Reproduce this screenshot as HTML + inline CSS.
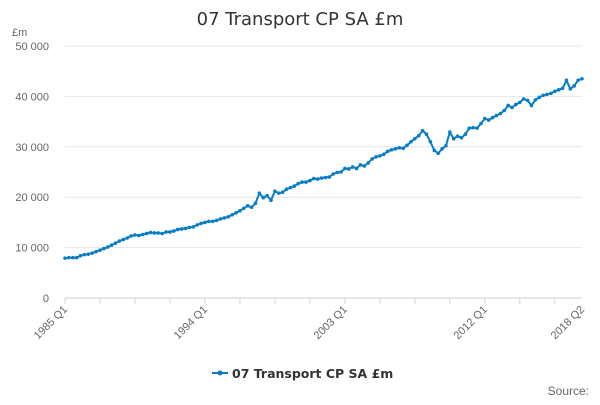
<!DOCTYPE html>
<html><head><meta charset="utf-8"><style>
body{margin:0;background:#fff;font-family:"Liberation Sans",sans-serif}
svg text{font-family:"Liberation Sans",sans-serif}
</style></head><body>
<svg width="600" height="400">
<text x="300" y="25" text-anchor="middle" font-size="18" fill="#333" style="font-family:'DejaVu Sans',sans-serif">07 Transport CP SA £m</text>
<text x="12" y="36" font-size="11" fill="#666">£m</text>
<g id="grid"></g><g id="xaxis"></g>
<path id="line" fill="none" stroke="#0a7ec4" stroke-width="2"/>
<g id="pts"></g>
<g>
<line x1="212" y1="373" x2="228" y2="373" stroke="#0a7ec4" stroke-width="2"/>
<circle cx="220" cy="373" r="2.5" fill="#0a7ec4"/>
<text x="232" y="378" font-size="12.5" font-weight="bold" fill="#333" style="font-family:'DejaVu Sans',sans-serif">07 Transport CP SA £m</text>
</g>
<text x="589" y="395" text-anchor="end" font-size="12" fill="#666">Source:</text>
</svg>
<script>
const yTicks=[0,10000,20000,30000,40000,50000];
const yTickLabels=["0","10 000","20 000","30 000","40 000","50 000"];
const xLabels=["1985 Q1","1994 Q1","2003 Q1","2012 Q1","2018 Q2"];
const xLabelIdx=[0,36,72,108,133];
const values=[7.9,8.0,8.0,8.0,8.4,8.6,8.7,8.9,9.2,9.5,9.8,10.1,10.5,10.9,11.3,11.6,11.9,12.3,12.5,12.4,12.6,12.8,13.0,12.9,12.9,12.8,13.1,13.1,13.3,13.6,13.7,13.8,14.0,14.1,14.5,14.8,15.0,15.2,15.2,15.4,15.7,15.9,16.1,16.5,16.9,17.3,17.8,18.3,18.0,18.8,20.8,19.9,20.3,19.4,21.2,20.8,21.0,21.6,21.9,22.2,22.7,23.0,23.0,23.3,23.7,23.6,23.8,23.9,24.0,24.6,24.9,25.0,25.7,25.6,26.0,25.7,26.4,26.2,26.8,27.6,28.0,28.2,28.5,29.1,29.4,29.6,29.8,29.7,30.3,31.0,31.6,32.2,33.2,32.5,31.0,29.3,28.7,29.6,30.2,32.9,31.6,32.1,31.8,32.5,33.7,33.8,33.7,34.6,35.6,35.3,35.8,36.2,36.6,37.2,38.2,37.8,38.4,38.8,39.5,39.2,38.2,39.3,39.8,40.2,40.4,40.6,41.0,41.3,41.6,43.2,41.5,42.1,43.2,43.5].map(v=>v*1000);
const NS="http://www.w3.org/2000/svg";
const x0=65,x1=582,y0=298,y1=46;
const X=i=>x0+(x1-x0)*i/(values.length-1);
const Y=v=>y0-(y0-y1)*v/50000;
const grid=document.getElementById('grid');
yTicks.forEach((t,k)=>{
 const l=document.createElementNS(NS,'line');
 
 
 l.setAttribute('x1',x0);l.setAttribute('x2',x1);l.setAttribute('y1',Y(t));l.setAttribute('y2',Y(t));
 l.setAttribute('stroke',t===0?'#ccc':'#e6e6e6');grid.appendChild(l);
 const tx=document.createElementNS(NS,'text');
 
 
 tx.setAttribute('x',49);tx.setAttribute('y',Y(t)+4);tx.setAttribute('text-anchor','end');
 tx.setAttribute('font-size','11');tx.setAttribute('fill','#666');tx.textContent=yTickLabels[k];grid.appendChild(tx);
});
const xa=document.getElementById('xaxis');
for(let i=0;i<values.length;i+=9){
 const l=document.createElementNS(NS,'line');
 
 
 l.setAttribute('x1',X(i));l.setAttribute('x2',X(i));l.setAttribute('y1',y0);l.setAttribute('y2',y0+6);
 l.setAttribute('stroke','#ccd6eb');xa.appendChild(l);
}
xLabels.forEach((s,k)=>{
 const x=X(xLabelIdx[k]);
 const t=document.createElementNS(NS,'text');
 
 
 t.setAttribute('x',x+3);t.setAttribute('y',y0+12);t.setAttribute('text-anchor','end');
 t.setAttribute('font-size','11');t.setAttribute('fill','#666');
 t.setAttribute('transform',`rotate(-45 ${x+3} ${y0+12})`);t.textContent=s;xa.appendChild(t);
});
let d='';const pts=document.getElementById('pts');
values.forEach((v,i)=>{
 d+=(i?'L':'M')+X(i).toFixed(1)+' '+Y(v).toFixed(1);
 const c=document.createElementNS(NS,'circle');
 
 
 c.setAttribute('cx',X(i));c.setAttribute('cy',Y(v));c.setAttribute('r',1.8);c.setAttribute('fill','#0a7ec4');
 pts.appendChild(c);
});
document.getElementById('line').setAttribute('d',d);
</script>
</body></html>
